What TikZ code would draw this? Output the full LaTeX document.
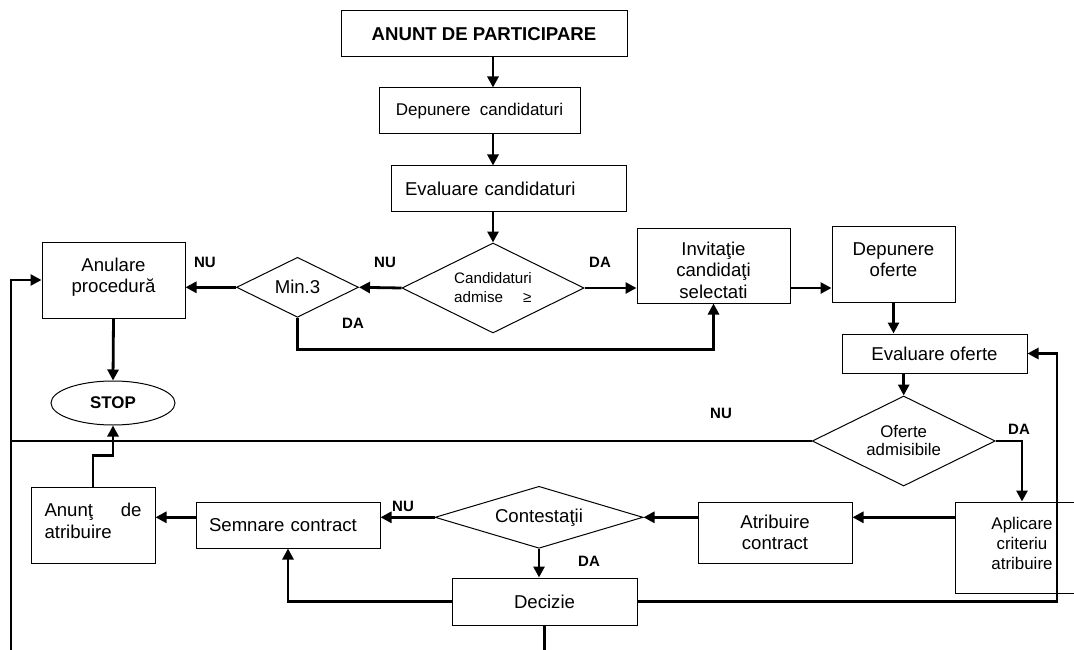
\documentclass[tikz,border=0pt]{standalone}
\usepackage{fontspec}
\setmainfont{Liberation Sans}
\usetikzlibrary{shapes.geometric,arrows.meta,calc}
\newcommand\myfs[2]{\fontsize{#1pt}{#2pt}\selectfont}
\tikzset{
  box/.style={draw, line width=1pt, rectangle, inner sep=0pt, align=center, font=\myfs{18.6}{21.5}},
  txt/.style={inner sep=0pt, align=center, font=\myfs{18.6}{21.5}},
  dia/.style={draw, line width=1pt, diamond, inner sep=0pt, align=center, font=\myfs{18.6}{21.5}},
  lab/.style={font=\bfseries\myfs{15}{17}, inner sep=0pt},
  ln/.style={line width=2.8pt},
  arr/.style={line width=2.8pt, -{Triangle[length=11pt,width=11pt]}}
}
\begin{document}
\begin{tikzpicture}[x=1pt,y=-1pt]
\useasboundingbox (0,0) rectangle (1074,650);
\clip (0,0) rectangle (1074,650);
\fill[white] (0,0) rectangle (1074,650);

\node[box, minimum width=286pt, minimum height=46pt, font=\bfseries\myfs{18.6}{21.5}] (anunt) at (484,34) {ANUNT DE PARTICIPARE};
\node[box, minimum width=201pt, minimum height=46pt, font=\myfs{17}{20}] (depc) at (479.5,111) {Depunere\ \ candidaturi};
\node[box, minimum width=235pt, minimum height=45pt, text width=207pt, inner xsep=14pt, align=left] (evc) at (508.5,188.5) {Evaluare candidaturi};
\node[dia, minimum width=182pt, minimum height=90pt, shape aspect=2, align=left, font=\myfs{15.2}{19}] (cand) at (493,288) {Candidaturi\\admise\hspace{20pt}≥};
\node[dia, minimum width=122pt, minimum height=60pt, shape aspect=2] (min3) at (297.5,287.3) {Min.3};
\node[box, minimum width=143pt, minimum height=76pt] (anul) at (113.5,280) {};
\node[txt] (anult) at (113.5,277) {Anulare\\procedură};
\node[draw, ellipse, line width=1pt, minimum width=124pt, minimum height=44pt, inner sep=0pt, font=\bfseries\myfs{16.9}{19}] (stop) at (113,403) {STOP};
\node[box, minimum width=153pt, minimum height=75pt] (invit) at (713.5,265.5) {};
\node[txt] (invitt) at (713.5,270) {Invitaţie\\candidaţi\\selectati};
\node[box, minimum width=123pt, minimum height=76pt] (depo) at (893.5,264) {};
\node[txt] (depot) at (893.5,259.5) {Depunere\\oferte};
\node[box, minimum width=185pt, minimum height=39pt] (evo) at (934.5,353.5) {Evaluare oferte};
\node[dia, minimum width=183pt, minimum height=90pt, shape aspect=2, font=\myfs{16.8}{18}] (ofe) at (903.7,441) {Oferte\\admisibile};
\node[box, minimum width=145pt, minimum height=91pt] (apl) at (1027.5,547.5) {};
\node[txt, font=\myfs{16.9}{20}] (aplt) at (1022,543) {Aplicare\\criteriu\\atribuire};
\node[box, minimum width=154pt, minimum height=61pt] (atr) at (775,532.5) {Atribuire\\contract};
\node[dia, minimum width=208pt, minimum height=62pt, shape aspect=3.35] (cont) at (539,517.3) {Contestaţii};
\node[box, minimum width=184pt, minimum height=46pt, text width=158pt, inner xsep=13pt, align=left] (semn) at (288,525) {Semnare contract};
\node[box, minimum width=124pt, minimum height=76pt] (anatr) at (93,525) {};
\node[txt, text width=97pt, align=left] (anatrt) at (93,521) {Anunţ\hfill de\\atribuire};
\node[box, minimum width=185pt, minimum height=47pt] (dec) at (544.5,601.5) {Decizie};

\node[lab] (l1) at (205,262) {NU};
\node[lab] (l2) at (385,262) {NU};
\node[lab] (l3) at (600,262) {DA};
\node[lab] (l4) at (353,323) {DA};
\node[lab] (l5) at (721,413) {NU};
\node[lab] (l6) at (1019,429) {DA};
\node[lab] (l7) at (403,506) {NU};
\node[lab] (l8) at (589,561) {DA};

\coordinate (jl) at (11,660);
\coordinate (jr) at (1057,0);
\coordinate (db) at (544.5,660);

\draw[arr] (anunt.south -| cand.north) -- (depc.north -| cand.north);
\draw[arr] (depc.south -| cand.north) -- (evc.north -| cand.north);
\draw[arr] (evc.south -| cand.north) -- (cand.north);
\draw[arr] (cand.west) -- (min3.east);
\draw[arr] (min3.west) -- (min3.west -| anul.east);
\draw[arr] (cand.east) -- (cand.east -| invit.west);
\draw[arr] (min3.south) -- ++(0,32) -| (invit.south);
\draw[arr] (invit.east |- cand.east) -- (depo.west |- cand.east);
\draw[arr] (depo.south) -- (depo.south |- evo.north);
\draw[arr] (ofe.north |- evo.south) -- (ofe.north);
\draw[arr] (ofe.east) -| (aplt.center |- apl.north);
\draw[arr] (apl.west |- cont.east) -- (atr.east |- cont.east);
\draw[arr] (atr.west |- cont.east) -- (cont.east);
\draw[arr] (cont.west) -- (cont.west -| semn.east);
\draw[arr] (semn.west |- cont.west) -- (anatr.east |- cont.west);
\draw[arr] (cont.south) -- (cont.south |- dec.north);
\draw[arr] (dec.west) -| (semn.south);
\draw[arr] (dec.east) -- (dec.east -| jr) -- (jr |- evo.east) -- (evo.east);
\draw[ln] (dec.south) -- (db);
\draw[ln] (ofe.west) -- (ofe.west -| jl);
\draw[arr] (jl) |- (anul.west);
\draw[arr] (anul.south) -- (stop.north);
\draw[arr] (anatr.north) -- ++(0,-31) -| (stop.south);
\end{tikzpicture}
\end{document}
